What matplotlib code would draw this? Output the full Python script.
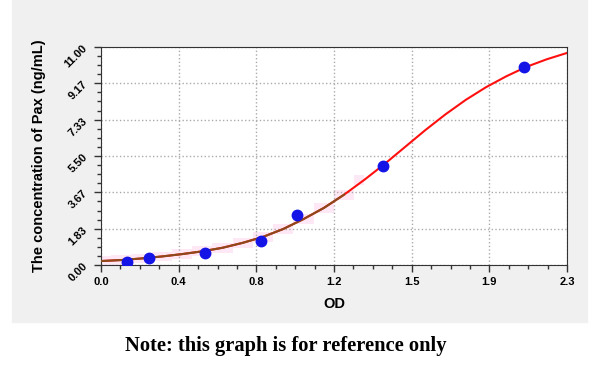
import numpy as np
import matplotlib.pyplot as plt
from matplotlib.patches import Rectangle
from matplotlib.ticker import AutoMinorLocator

plt.rcParams['font.family'] = ['Liberation Sans', 'DejaVu Sans']

# standard points (OD vs concentration)
od = [0.127, 0.238, 0.513, 0.788, 0.966, 1.390, 2.088]
conc = [0.16, 0.34, 0.62, 1.23, 2.52, 4.98, 9.97]

# fitted curve
curve_x = [0.0, 0.1, 0.2, 0.3, 0.4, 0.5, 0.6, 0.7, 0.8, 0.9, 1.0, 1.1,
           1.2, 1.3, 1.4, 1.5, 1.6, 1.7, 1.8, 1.9, 2.0, 2.1, 2.2, 2.3]
curve_y = [0.2, 0.25, 0.33, 0.43, 0.55, 0.69, 0.87, 1.12, 1.42, 1.82, 2.32, 2.88,
           3.55, 4.3, 5.1, 5.95, 6.8, 7.6, 8.33, 8.97, 9.52, 10.0, 10.38, 10.7]

xticks = [0.0, 2.3 / 6, 2 * 2.3 / 6, 3 * 2.3 / 6, 4 * 2.3 / 6, 5 * 2.3 / 6, 2.3]
xlabels = ['0.0', '0.4', '0.8', '1.2', '1.5', '1.9', '2.3']
yticks = [i * 11 / 6 for i in range(7)]
ylabels = ['0.00', '1.83', '3.67', '5.50', '7.33', '9.17', '11.00']

fig = plt.figure(figsize=(6, 3.68), dpi=100)
fig.patches.append(Rectangle((12 / 600, 1 - 322 / 368), 575 / 600, 322 / 368,
                             transform=fig.transFigure, color='#f0f0f0', zorder=-5))
ax = fig.add_axes([101 / 600, 1 - 265 / 368, 466 / 600, 218 / 368])

cx = np.array(curve_x)
cy = np.array(curve_y)
low = cx <= 1.3
ax.fill_between(cx[low], cy[low] - 0.25, cy[low] + 0.25, step='mid',
                color='#ffe8f6', lw=0, zorder=1)
ax.plot(cx, cy, color='#ff1010', lw=1.5, zorder=2)
ax.plot(cx[cx <= 1.27], cy[cx <= 1.27], color='#8b4a1c', lw=1.5, zorder=3)
ax.plot(od, conc, 'o', color='#1414e6', markersize=7.5, zorder=4)

ax.set_xlim(0, 2.3)
ax.set_ylim(0, 11)
ax.set_xticks(xticks)
ax.set_xticklabels(xlabels, fontsize=8, fontweight='bold')
ax.set_yticks(yticks)
ax.set_yticklabels(ylabels, fontsize=8, fontweight='bold', rotation=45)
ax.xaxis.set_minor_locator(AutoMinorLocator(4))
ax.yaxis.set_minor_locator(AutoMinorLocator(4))
ax.tick_params(which='major', length=5, width=1, color='#333333')
ax.tick_params(which='minor', length=3, width=1, color='#333333')
ax.grid(True, linestyle=':', color='#aaaaaa', lw=1)
for s in ax.spines.values():
    s.set_color('#333333')

ax.set_xlabel('OD', fontsize=10.5, fontweight='bold', labelpad=7)
ax.set_ylabel('The concentration of Pax (ng/mL)', fontsize=10.5, fontweight='bold', labelpad=12)

fig.text(286 / 600, 1 - 346 / 368, 'Note: this graph is for reference only',
         ha='center', va='center', fontsize=14.8, fontweight='bold', family='Liberation Serif')

plt.savefig('out.png')
